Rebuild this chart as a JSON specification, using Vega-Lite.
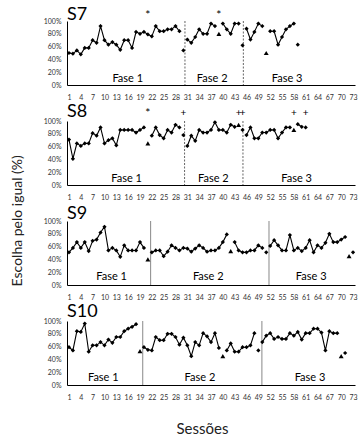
{
 "$schema": "https://vega.github.io/schema/vega-lite/v6.json",
 "autosize": {"type": "none"},
 "padding": {"left": 67, "top": 21, "right": 296, "bottom": 418},
 "background": "white",
 "title": {"text": "Escolha pelo igual (%)", "orient": "left", "anchor": "middle", "fontSize": 14, "fontWeight": "normal", "font": "Lato", "color": "#222", "offset": 18},
 "spacing": 36,
 "bounds": "flush",
 "datasets": {
  "div": [
   {"p":"S7","s":30.4},{"p":"S7","s":45.2},
   {"p":"S8","s":30.3},{"p":"S8","s":45.1},
   {"p":"S9","s":21.7},{"p":"S9","s":51.7},
   {"p":"S10","s":19.7},{"p":"S10","s":49.9}
  ],
  "lab": [
   {"p":"S7","s":15.9,"v":10,"t":"Fase 1"},{"p":"S7","s":37.3,"v":10,"t":"Fase 2"},{"p":"S7","s":56.3,"v":10,"t":"Fase 3"},
   {"p":"S8","s":15.6,"v":9,"t":"Fase 1"},{"p":"S8","s":37.6,"v":9,"t":"Fase 2"},{"p":"S8","s":58.7,"v":9,"t":"Fase 3"},
   {"p":"S9","s":11.8,"v":12,"t":"Fase 1"},{"p":"S9","s":36.3,"v":12,"t":"Fase 2"},{"p":"S9","s":62.4,"v":12,"t":"Fase 3"},
   {"p":"S10","s":9.7,"v":11,"t":"Fase 1"},{"p":"S10","s":34.2,"v":11,"t":"Fase 2"},{"p":"S10","s":62.1,"v":11,"t":"Fase 3"}
  ],
  "pts": [
   {"p":"S7","s":1,"v":50,"k":"L","g":1},{"p":"S7","s":2,"v":49,"k":"L","g":1},{"p":"S7","s":3,"v":54,"k":"L","g":1},{"p":"S7","s":4,"v":48,"k":"L","g":1},{"p":"S7","s":5,"v":58,"k":"L","g":1},{"p":"S7","s":6,"v":58,"k":"L","g":1},{"p":"S7","s":7,"v":70,"k":"L","g":1},{"p":"S7","s":8,"v":66,"k":"L","g":1},{"p":"S7","s":9,"v":92,"k":"L","g":1},{"p":"S7","s":10,"v":70,"k":"L","g":1},{"p":"S7","s":11,"v":63,"k":"L","g":1},{"p":"S7","s":12,"v":67,"k":"L","g":1},{"p":"S7","s":13,"v":63,"k":"L","g":1},{"p":"S7","s":14,"v":55,"k":"L","g":1},{"p":"S7","s":15,"v":70,"k":"L","g":1},{"p":"S7","s":16,"v":70,"k":"L","g":1},{"p":"S7","s":17,"v":58,"k":"L","g":1},{"p":"S7","s":18,"v":83,"k":"L","g":1},{"p":"S7","s":19,"v":80,"k":"L","g":1},{"p":"S7","s":20,"v":83,"k":"L","g":1},{"p":"S7","s":21,"v":79,"k":"L","g":1},{"p":"S7","s":22,"v":76,"k":"L","g":1},{"p":"S7","s":23,"v":92,"k":"L","g":1},{"p":"S7","s":24,"v":84,"k":"L","g":1},{"p":"S7","s":25,"v":84,"k":"L","g":1},{"p":"S7","s":26,"v":87,"k":"L","g":1},{"p":"S7","s":27,"v":87,"k":"L","g":1},{"p":"S7","s":28,"v":92,"k":"L","g":1},{"p":"S7","s":29,"v":84,"k":"L","g":1},
   {"p":"S7","s":30,"v":54,"k":"D","g":0},
   {"p":"S7","s":31,"v":71,"k":"L","g":2},{"p":"S7","s":32,"v":66,"k":"L","g":2},{"p":"S7","s":33,"v":75,"k":"L","g":2},{"p":"S7","s":34,"v":87,"k":"L","g":2},{"p":"S7","s":35,"v":80,"k":"L","g":2},{"p":"S7","s":36,"v":80,"k":"L","g":2},{"p":"S7","s":37,"v":96,"k":"L","g":2},{"p":"S7","s":38,"v":92,"k":"L","g":2},
   {"p":"S7","s":39,"v":80,"k":"T","g":0},
   {"p":"S7","s":40,"v":96,"k":"L","g":3},{"p":"S7","s":41,"v":87,"k":"L","g":3},{"p":"S7","s":42,"v":80,"k":"L","g":3},{"p":"S7","s":43,"v":96,"k":"L","g":3},{"p":"S7","s":44,"v":96,"k":"L","g":3},
   {"p":"S7","s":45,"v":62,"k":"D","g":0},
   {"p":"S7","s":46,"v":88,"k":"L","g":4},{"p":"S7","s":47,"v":71,"k":"L","g":4},{"p":"S7","s":48,"v":83,"k":"L","g":4},{"p":"S7","s":49,"v":96,"k":"L","g":4},{"p":"S7","s":50,"v":92,"k":"L","g":4},
   {"p":"S7","s":51,"v":50,"k":"T","g":0},
   {"p":"S7","s":52,"v":84,"k":"L","g":5},{"p":"S7","s":53,"v":84,"k":"L","g":5},{"p":"S7","s":54,"v":63,"k":"L","g":5},{"p":"S7","s":55,"v":75,"k":"L","g":5},{"p":"S7","s":56,"v":87,"k":"L","g":5},{"p":"S7","s":57,"v":92,"k":"L","g":5},{"p":"S7","s":58,"v":96,"k":"L","g":5},
   {"p":"S7","s":59,"v":63,"k":"D","g":0},
   {"p":"S7","s":21,"v":110,"k":"A","g":0},{"p":"S7","s":39,"v":110,"k":"A","g":0},

   {"p":"S8","s":1,"v":71,"k":"L","g":1},{"p":"S8","s":2,"v":41,"k":"L","g":1},{"p":"S8","s":3,"v":65,"k":"L","g":1},{"p":"S8","s":4,"v":61,"k":"L","g":1},{"p":"S8","s":5,"v":65,"k":"L","g":1},{"p":"S8","s":6,"v":65,"k":"L","g":1},{"p":"S8","s":7,"v":81,"k":"L","g":1},{"p":"S8","s":8,"v":77,"k":"L","g":1},{"p":"S8","s":9,"v":90,"k":"L","g":1},{"p":"S8","s":10,"v":65,"k":"L","g":1},{"p":"S8","s":11,"v":70,"k":"L","g":1},{"p":"S8","s":12,"v":73,"k":"L","g":1},{"p":"S8","s":13,"v":62,"k":"L","g":1},{"p":"S8","s":14,"v":86,"k":"L","g":1},{"p":"S8","s":15,"v":86,"k":"L","g":1},{"p":"S8","s":16,"v":86,"k":"L","g":1},{"p":"S8","s":17,"v":86,"k":"L","g":1},{"p":"S8","s":18,"v":82,"k":"L","g":1},{"p":"S8","s":19,"v":86,"k":"L","g":1},{"p":"S8","s":20,"v":90,"k":"L","g":1},
   {"p":"S8","s":21,"v":65,"k":"T","g":0},{"p":"S8","s":21,"v":112,"k":"A","g":0},
   {"p":"S8","s":22,"v":77,"k":"L","g":2},{"p":"S8","s":23,"v":90,"k":"L","g":2},{"p":"S8","s":24,"v":78,"k":"L","g":2},{"p":"S8","s":25,"v":73,"k":"L","g":2},{"p":"S8","s":26,"v":86,"k":"L","g":2},{"p":"S8","s":27,"v":82,"k":"L","g":2},{"p":"S8","s":28,"v":94,"k":"L","g":2},{"p":"S8","s":29,"v":90,"k":"L","g":2},
   {"p":"S8","s":30,"v":78,"k":"D","g":0},{"p":"S8","s":30,"v":112,"k":"P","g":0},
   {"p":"S8","s":31,"v":61,"k":"L","g":3},{"p":"S8","s":32,"v":77,"k":"L","g":3},{"p":"S8","s":33,"v":69,"k":"L","g":3},{"p":"S8","s":34,"v":86,"k":"L","g":3},{"p":"S8","s":35,"v":82,"k":"L","g":3},{"p":"S8","s":36,"v":82,"k":"L","g":3},{"p":"S8","s":37,"v":86,"k":"L","g":3},{"p":"S8","s":38,"v":98,"k":"L","g":3},{"p":"S8","s":39,"v":86,"k":"L","g":3},{"p":"S8","s":40,"v":86,"k":"L","g":3},{"p":"S8","s":41,"v":82,"k":"L","g":3},{"p":"S8","s":42,"v":94,"k":"L","g":3},{"p":"S8","s":43,"v":91,"k":"L","g":3},
   {"p":"S8","s":44,"v":94,"k":"T","g":0},{"p":"S8","s":44,"v":112,"k":"P","g":0},
   {"p":"S8","s":45,"v":86,"k":"D","g":0},{"p":"S8","s":45,"v":112,"k":"P","g":0},
   {"p":"S8","s":46,"v":78,"k":"L","g":4},{"p":"S8","s":47,"v":90,"k":"L","g":4},{"p":"S8","s":48,"v":73,"k":"L","g":4},{"p":"S8","s":49,"v":73,"k":"L","g":4},{"p":"S8","s":50,"v":82,"k":"L","g":4},{"p":"S8","s":51,"v":82,"k":"L","g":4},{"p":"S8","s":52,"v":86,"k":"L","g":4},{"p":"S8","s":53,"v":86,"k":"L","g":4},{"p":"S8","s":54,"v":73,"k":"L","g":4},{"p":"S8","s":55,"v":82,"k":"L","g":4},{"p":"S8","s":56,"v":90,"k":"L","g":4},{"p":"S8","s":57,"v":90,"k":"L","g":4},
   {"p":"S8","s":58,"v":86,"k":"T","g":0},{"p":"S8","s":58,"v":112,"k":"P","g":0},
   {"p":"S8","s":59,"v":95,"k":"L","g":5},{"p":"S8","s":60,"v":91,"k":"L","g":5},
   {"p":"S8","s":61,"v":90,"k":"D","g":0},{"p":"S8","s":61,"v":112,"k":"P","g":0},

   {"p":"S9","s":1,"v":51,"k":"L","g":1},{"p":"S9","s":2,"v":58,"k":"L","g":1},{"p":"S9","s":3,"v":67,"k":"L","g":1},{"p":"S9","s":4,"v":58,"k":"L","g":1},{"p":"S9","s":5,"v":67,"k":"L","g":1},{"p":"S9","s":6,"v":53,"k":"L","g":1},{"p":"S9","s":7,"v":69,"k":"L","g":1},{"p":"S9","s":8,"v":71,"k":"L","g":1},{"p":"S9","s":9,"v":82,"k":"L","g":1},{"p":"S9","s":10,"v":91,"k":"L","g":1},{"p":"S9","s":11,"v":54,"k":"L","g":1},{"p":"S9","s":12,"v":58,"k":"L","g":1},{"p":"S9","s":13,"v":54,"k":"L","g":1},{"p":"S9","s":14,"v":44,"k":"L","g":1},{"p":"S9","s":15,"v":62,"k":"L","g":1},{"p":"S9","s":16,"v":54,"k":"L","g":1},{"p":"S9","s":17,"v":54,"k":"L","g":1},{"p":"S9","s":18,"v":54,"k":"L","g":1},{"p":"S9","s":19,"v":67,"k":"L","g":1},{"p":"S9","s":20,"v":58,"k":"L","g":1},
   {"p":"S9","s":21,"v":40,"k":"T","g":0},
   {"p":"S9","s":22,"v":51,"k":"L","g":2},{"p":"S9","s":23,"v":54,"k":"L","g":2},{"p":"S9","s":24,"v":54,"k":"L","g":2},{"p":"S9","s":25,"v":45,"k":"L","g":2},{"p":"S9","s":26,"v":52,"k":"L","g":2},{"p":"S9","s":27,"v":62,"k":"L","g":2},{"p":"S9","s":28,"v":58,"k":"L","g":2},{"p":"S9","s":29,"v":54,"k":"L","g":2},{"p":"S9","s":30,"v":58,"k":"L","g":2},{"p":"S9","s":31,"v":57,"k":"L","g":2},{"p":"S9","s":32,"v":52,"k":"L","g":2},{"p":"S9","s":33,"v":57,"k":"L","g":2},{"p":"S9","s":34,"v":62,"k":"L","g":2},{"p":"S9","s":35,"v":58,"k":"L","g":2},{"p":"S9","s":36,"v":52,"k":"L","g":2},{"p":"S9","s":37,"v":54,"k":"L","g":2},{"p":"S9","s":38,"v":54,"k":"L","g":2},{"p":"S9","s":39,"v":58,"k":"L","g":2},{"p":"S9","s":40,"v":67,"k":"L","g":2},{"p":"S9","s":41,"v":79,"k":"L","g":2},
   {"p":"S9","s":42,"v":53,"k":"T","g":0},
   {"p":"S9","s":43,"v":67,"k":"L","g":3},{"p":"S9","s":44,"v":54,"k":"L","g":3},{"p":"S9","s":45,"v":51,"k":"L","g":3},{"p":"S9","s":46,"v":51,"k":"L","g":3},{"p":"S9","s":47,"v":54,"k":"L","g":3},{"p":"S9","s":48,"v":54,"k":"L","g":3},{"p":"S9","s":49,"v":62,"k":"L","g":3},{"p":"S9","s":50,"v":58,"k":"L","g":3},
   {"p":"S9","s":51,"v":51,"k":"D","g":0},
   {"p":"S9","s":52,"v":61,"k":"L","g":4},{"p":"S9","s":53,"v":70,"k":"L","g":4},{"p":"S9","s":54,"v":62,"k":"L","g":4},{"p":"S9","s":55,"v":54,"k":"L","g":4},{"p":"S9","s":56,"v":54,"k":"L","g":4},{"p":"S9","s":57,"v":78,"k":"L","g":4},{"p":"S9","s":58,"v":54,"k":"L","g":4},{"p":"S9","s":59,"v":58,"k":"L","g":4},{"p":"S9","s":60,"v":53,"k":"L","g":4},{"p":"S9","s":61,"v":58,"k":"L","g":4},{"p":"S9","s":62,"v":70,"k":"L","g":4},{"p":"S9","s":63,"v":51,"k":"L","g":4},{"p":"S9","s":64,"v":62,"k":"L","g":4},{"p":"S9","s":65,"v":58,"k":"L","g":4},{"p":"S9","s":66,"v":66,"k":"L","g":4},{"p":"S9","s":67,"v":80,"k":"L","g":4},{"p":"S9","s":68,"v":67,"k":"L","g":4},{"p":"S9","s":69,"v":67,"k":"L","g":4},{"p":"S9","s":70,"v":71,"k":"L","g":4},{"p":"S9","s":71,"v":75,"k":"L","g":4},
   {"p":"S9","s":72,"v":45,"k":"T","g":0},{"p":"S9","s":73,"v":51,"k":"D","g":0},

   {"p":"S10","s":1,"v":59,"k":"L","g":1},{"p":"S10","s":2,"v":54,"k":"L","g":1},{"p":"S10","s":3,"v":84,"k":"L","g":1},{"p":"S10","s":4,"v":83,"k":"L","g":1},{"p":"S10","s":5,"v":96,"k":"L","g":1},{"p":"S10","s":6,"v":52,"k":"L","g":1},{"p":"S10","s":7,"v":62,"k":"L","g":1},{"p":"S10","s":8,"v":62,"k":"L","g":1},{"p":"S10","s":9,"v":67,"k":"L","g":1},{"p":"S10","s":10,"v":62,"k":"L","g":1},{"p":"S10","s":11,"v":71,"k":"L","g":1},{"p":"S10","s":12,"v":66,"k":"L","g":1},{"p":"S10","s":13,"v":75,"k":"L","g":1},{"p":"S10","s":14,"v":75,"k":"L","g":1},{"p":"S10","s":15,"v":84,"k":"L","g":1},{"p":"S10","s":16,"v":88,"k":"L","g":1},{"p":"S10","s":17,"v":91,"k":"L","g":1},{"p":"S10","s":18,"v":95,"k":"L","g":1},
   {"p":"S10","s":19,"v":53,"k":"T","g":0},
   {"p":"S10","s":20,"v":59,"k":"L","g":2},{"p":"S10","s":21,"v":55,"k":"L","g":2},{"p":"S10","s":22,"v":54,"k":"L","g":2},{"p":"S10","s":23,"v":75,"k":"L","g":2},{"p":"S10","s":24,"v":70,"k":"L","g":2},{"p":"S10","s":25,"v":70,"k":"L","g":2},{"p":"S10","s":26,"v":80,"k":"L","g":2},{"p":"S10","s":27,"v":80,"k":"L","g":2},{"p":"S10","s":28,"v":75,"k":"L","g":2},{"p":"S10","s":29,"v":63,"k":"L","g":2},{"p":"S10","s":30,"v":74,"k":"L","g":2},{"p":"S10","s":31,"v":62,"k":"L","g":2},{"p":"S10","s":32,"v":45,"k":"L","g":2},{"p":"S10","s":33,"v":67,"k":"L","g":2},{"p":"S10","s":34,"v":62,"k":"L","g":2},{"p":"S10","s":35,"v":81,"k":"L","g":2},{"p":"S10","s":36,"v":76,"k":"L","g":2},{"p":"S10","s":37,"v":67,"k":"L","g":2},{"p":"S10","s":38,"v":81,"k":"L","g":2},{"p":"S10","s":39,"v":58,"k":"L","g":2},
   {"p":"S10","s":40,"v":45,"k":"T","g":0},
   {"p":"S10","s":41,"v":54,"k":"L","g":3},{"p":"S10","s":42,"v":65,"k":"L","g":3},{"p":"S10","s":43,"v":52,"k":"L","g":3},{"p":"S10","s":44,"v":52,"k":"L","g":3},{"p":"S10","s":45,"v":59,"k":"L","g":3},{"p":"S10","s":46,"v":59,"k":"L","g":3},{"p":"S10","s":47,"v":62,"k":"L","g":3},{"p":"S10","s":48,"v":81,"k":"L","g":3},
   {"p":"S10","s":49,"v":54,"k":"D","g":0},
   {"p":"S10","s":50,"v":67,"k":"L","g":4},{"p":"S10","s":51,"v":77,"k":"L","g":4},{"p":"S10","s":52,"v":81,"k":"L","g":4},{"p":"S10","s":53,"v":72,"k":"L","g":4},{"p":"S10","s":54,"v":75,"k":"L","g":4},{"p":"S10","s":55,"v":72,"k":"L","g":4},{"p":"S10","s":56,"v":72,"k":"L","g":4},{"p":"S10","s":57,"v":81,"k":"L","g":4},{"p":"S10","s":58,"v":77,"k":"L","g":4},{"p":"S10","s":59,"v":83,"k":"L","g":4},{"p":"S10","s":60,"v":71,"k":"L","g":4},{"p":"S10","s":61,"v":81,"k":"L","g":4},{"p":"S10","s":62,"v":81,"k":"L","g":4},{"p":"S10","s":63,"v":88,"k":"L","g":4},{"p":"S10","s":64,"v":88,"k":"L","g":4},{"p":"S10","s":65,"v":82,"k":"L","g":4},{"p":"S10","s":66,"v":54,"k":"L","g":4},{"p":"S10","s":67,"v":84,"k":"L","g":4},{"p":"S10","s":68,"v":81,"k":"L","g":4},{"p":"S10","s":69,"v":81,"k":"L","g":4},
   {"p":"S10","s":70,"v":45,"k":"T","g":0},{"p":"S10","s":71,"v":50,"k":"D","g":0}
  ]
 },
 "vconcat": [
  {
   "width": 288, "height": 64,
   "title": {"text": "S7", "anchor": "start", "frame": "group", "fontSize": 18, "offset": -15},
   "encoding": {"x": {"field": "s", "type": "quantitative", "scale": {"domain": [0.5, 73.5], "nice": false, "zero": false}, "axis": {"values": [1,4,7,10,13,16,19,22,25,28,31,34,37,40,43,46,49,52,55,58,61,64,67,70,73], "title": null}}},
   "layer": [
    {"data": {"name": "div"}, "transform": [{"filter": "datum.p==='S7'"}], "mark": {"type": "rule", "color": "#666", "strokeWidth": 1, "strokeDash": [2, 1.5]}, "encoding": {}},
    {"data": {"name": "pts"}, "transform": [{"filter": "datum.p==='S7' && datum.k==='L'"}], "mark": {"type": "line", "color": "#000", "strokeWidth": 1.1}, "encoding": {"y": {"field": "v", "type": "quantitative", "scale": {"domain": [0, 100], "nice": false}, "axis": {"values": [0,20,40,60,80,100], "labelExpr": "datum.value + '%'", "title": null}}, "detail": {"field": "g", "type": "nominal"}}},
    {"data": {"name": "pts"}, "transform": [{"filter": "datum.p==='S7' && (datum.k==='L' || datum.k==='D')"}], "mark": {"type": "point", "shape": "diamond", "filled": true, "color": "#000", "size": 18, "opacity": 1}, "encoding": {"y": {"field": "v", "type": "quantitative", "scale": {"domain": [0, 100], "nice": false}, "axis": {"values": [0,20,40,60,80,100], "labelExpr": "datum.value + '%'", "title": null}}}},
    {"data": {"name": "pts"}, "transform": [{"filter": "datum.p==='S7' && datum.k==='T'"}], "mark": {"type": "point", "shape": "triangle-up", "filled": true, "color": "#000", "size": 24, "opacity": 1}, "encoding": {"y": {"field": "v", "type": "quantitative", "scale": {"domain": [0, 100], "nice": false}, "axis": {"values": [0,20,40,60,80,100], "labelExpr": "datum.value + '%'", "title": null}}}},
    {"data": {"name": "pts"}, "transform": [{"filter": "datum.p==='S7' && datum.k==='A'"}], "mark": {"type": "text", "text": "*", "fontSize": 12, "color": "#000"}, "encoding": {"y": {"field": "v", "type": "quantitative", "scale": {"domain": [0, 100], "nice": false}, "axis": {"values": [0,20,40,60,80,100], "labelExpr": "datum.value + '%'", "title": null}}}},
    {"data": {"name": "lab"}, "transform": [{"filter": "datum.p==='S7'"}], "mark": {"type": "text", "fontSize": 11, "color": "#000"}, "encoding": {"y": {"field": "v", "type": "quantitative", "scale": {"domain": [0, 100], "nice": false}, "axis": {"values": [0,20,40,60,80,100], "labelExpr": "datum.value + '%'", "title": null}}, "text": {"field": "t"}}}
   ]
  },
  {
   "width": 288, "height": 64,
   "title": {"text": "S8", "anchor": "start", "frame": "group", "fontSize": 18, "offset": -14},
   "encoding": {"x": {"field": "s", "type": "quantitative", "scale": {"domain": [0.5, 73.5], "nice": false, "zero": false}, "axis": {"values": [1,4,7,10,13,16,19,22,25,28,31,34,37,40,43,46,49,52,55,58,61,64,67,70,73], "title": null}}},
   "layer": [
    {"data": {"name": "div"}, "transform": [{"filter": "datum.p==='S8'"}], "mark": {"type": "rule", "color": "#666", "strokeWidth": 1, "strokeDash": [2, 1.5]}, "encoding": {}},
    {"data": {"name": "pts"}, "transform": [{"filter": "datum.p==='S8' && datum.k==='L'"}], "mark": {"type": "line", "color": "#000", "strokeWidth": 1.1}, "encoding": {"y": {"field": "v", "type": "quantitative", "scale": {"domain": [0, 100], "nice": false}, "axis": {"values": [0,20,40,60,80,100], "labelExpr": "datum.value + '%'", "title": null}}, "detail": {"field": "g", "type": "nominal"}}},
    {"data": {"name": "pts"}, "transform": [{"filter": "datum.p==='S8' && (datum.k==='L' || datum.k==='D')"}], "mark": {"type": "point", "shape": "diamond", "filled": true, "color": "#000", "size": 18, "opacity": 1}, "encoding": {"y": {"field": "v", "type": "quantitative", "scale": {"domain": [0, 100], "nice": false}, "axis": {"values": [0,20,40,60,80,100], "labelExpr": "datum.value + '%'", "title": null}}}},
    {"data": {"name": "pts"}, "transform": [{"filter": "datum.p==='S8' && datum.k==='T'"}], "mark": {"type": "point", "shape": "triangle-up", "filled": true, "color": "#000", "size": 24, "opacity": 1}, "encoding": {"y": {"field": "v", "type": "quantitative", "scale": {"domain": [0, 100], "nice": false}, "axis": {"values": [0,20,40,60,80,100], "labelExpr": "datum.value + '%'", "title": null}}}},
    {"data": {"name": "pts"}, "transform": [{"filter": "datum.p==='S8' && datum.k==='A'"}], "mark": {"type": "text", "text": "*", "fontSize": 12, "color": "#000"}, "encoding": {"y": {"field": "v", "type": "quantitative", "scale": {"domain": [0, 100], "nice": false}, "axis": {"values": [0,20,40,60,80,100], "labelExpr": "datum.value + '%'", "title": null}}}},
    {"data": {"name": "pts"}, "transform": [{"filter": "datum.p==='S8' && datum.k==='P'"}], "mark": {"type": "text", "text": "+", "fontSize": 10, "color": "#000"}, "encoding": {"y": {"field": "v", "type": "quantitative", "scale": {"domain": [0, 100], "nice": false}, "axis": {"values": [0,20,40,60,80,100], "labelExpr": "datum.value + '%'", "title": null}}}},
    {"data": {"name": "lab"}, "transform": [{"filter": "datum.p==='S8'"}], "mark": {"type": "text", "fontSize": 11, "color": "#000"}, "encoding": {"y": {"field": "v", "type": "quantitative", "scale": {"domain": [0, 100], "nice": false}, "axis": {"values": [0,20,40,60,80,100], "labelExpr": "datum.value + '%'", "title": null}}, "text": {"field": "t"}}}
   ]
  },
  {
   "width": 288, "height": 64,
   "title": {"text": "S9", "anchor": "start", "frame": "group", "fontSize": 18, "offset": -6},
   "encoding": {"x": {"field": "s", "type": "quantitative", "scale": {"domain": [0.5, 73.5], "nice": false, "zero": false}, "axis": {"values": [1,4,7,10,13,16,19,22,25,28,31,34,37,40,43,46,49,52,55,58,61,64,67,70,73], "title": null}}},
   "layer": [
    {"data": {"name": "div"}, "transform": [{"filter": "datum.p==='S9'"}], "mark": {"type": "rule", "color": "#888", "strokeWidth": 1}, "encoding": {}},
    {"data": {"name": "pts"}, "transform": [{"filter": "datum.p==='S9' && datum.k==='L'"}], "mark": {"type": "line", "color": "#000", "strokeWidth": 1.1}, "encoding": {"y": {"field": "v", "type": "quantitative", "scale": {"domain": [0, 100], "nice": false}, "axis": {"values": [0,20,40,60,80,100], "labelExpr": "datum.value + '%'", "title": null}}, "detail": {"field": "g", "type": "nominal"}}},
    {"data": {"name": "pts"}, "transform": [{"filter": "datum.p==='S9' && (datum.k==='L' || datum.k==='D')"}], "mark": {"type": "point", "shape": "diamond", "filled": true, "color": "#000", "size": 18, "opacity": 1}, "encoding": {"y": {"field": "v", "type": "quantitative", "scale": {"domain": [0, 100], "nice": false}, "axis": {"values": [0,20,40,60,80,100], "labelExpr": "datum.value + '%'", "title": null}}}},
    {"data": {"name": "pts"}, "transform": [{"filter": "datum.p==='S9' && datum.k==='T'"}], "mark": {"type": "point", "shape": "triangle-up", "filled": true, "color": "#000", "size": 24, "opacity": 1}, "encoding": {"y": {"field": "v", "type": "quantitative", "scale": {"domain": [0, 100], "nice": false}, "axis": {"values": [0,20,40,60,80,100], "labelExpr": "datum.value + '%'", "title": null}}}},
    {"data": {"name": "lab"}, "transform": [{"filter": "datum.p==='S9'"}], "mark": {"type": "text", "fontSize": 11, "color": "#000"}, "encoding": {"y": {"field": "v", "type": "quantitative", "scale": {"domain": [0, 100], "nice": false}, "axis": {"values": [0,20,40,60,80,100], "labelExpr": "datum.value + '%'", "title": null}}, "text": {"field": "t"}}}
   ]
  },
  {
   "width": 288, "height": 64,
   "title": {"text": "S10", "anchor": "start", "frame": "group", "fontSize": 18, "offset": -4},
   "encoding": {"x": {"field": "s", "type": "quantitative", "scale": {"domain": [0.5, 73.5], "nice": false, "zero": false}, "axis": {"values": [1,4,7,10,13,16,19,22,25,28,31,34,37,40,43,46,49,52,55,58,61,64,67,70,73], "title": "Sessões", "titleX": 135}}},
   "layer": [
    {"data": {"name": "div"}, "transform": [{"filter": "datum.p==='S10'"}], "mark": {"type": "rule", "color": "#888", "strokeWidth": 1}, "encoding": {}},
    {"data": {"name": "pts"}, "transform": [{"filter": "datum.p==='S10' && datum.k==='L'"}], "mark": {"type": "line", "color": "#000", "strokeWidth": 1.1}, "encoding": {"y": {"field": "v", "type": "quantitative", "scale": {"domain": [0, 100], "nice": false}, "axis": {"values": [0,20,40,60,80,100], "labelExpr": "datum.value + '%'", "title": null}}, "detail": {"field": "g", "type": "nominal"}}},
    {"data": {"name": "pts"}, "transform": [{"filter": "datum.p==='S10' && (datum.k==='L' || datum.k==='D')"}], "mark": {"type": "point", "shape": "diamond", "filled": true, "color": "#000", "size": 18, "opacity": 1}, "encoding": {"y": {"field": "v", "type": "quantitative", "scale": {"domain": [0, 100], "nice": false}, "axis": {"values": [0,20,40,60,80,100], "labelExpr": "datum.value + '%'", "title": null}}}},
    {"data": {"name": "pts"}, "transform": [{"filter": "datum.p==='S10' && datum.k==='T'"}], "mark": {"type": "point", "shape": "triangle-up", "filled": true, "color": "#000", "size": 24, "opacity": 1}, "encoding": {"y": {"field": "v", "type": "quantitative", "scale": {"domain": [0, 100], "nice": false}, "axis": {"values": [0,20,40,60,80,100], "labelExpr": "datum.value + '%'", "title": null}}}},
    {"data": {"name": "lab"}, "transform": [{"filter": "datum.p==='S10'"}], "mark": {"type": "text", "fontSize": 11, "color": "#000"}, "encoding": {"y": {"field": "v", "type": "quantitative", "scale": {"domain": [0, 100], "nice": false}, "axis": {"values": [0,20,40,60,80,100], "labelExpr": "datum.value + '%'", "title": null}}, "text": {"field": "t"}}}
   ]
  }
 ],
 "config": {
  "view": {"stroke": null},
  "font": "Lato",
  "title": {"font": "Lato", "fontWeight": "normal", "color": "#000"},
  "axis": {"ticks": false, "grid": false, "domainColor": "#000", "domainWidth": 1, "labelFont": "Lato", "labelColor": "#333", "labelFontSize": 7},
  "axisX": {"labelPadding": 8, "labelOverlap": false, "labelFlush": false, "titleFont": "Lato", "titleFontSize": 15, "titleFontWeight": "normal", "titlePadding": 21, "titleColor": "#222"},
  "axisY": {"labelPadding": 6}
 }
}
